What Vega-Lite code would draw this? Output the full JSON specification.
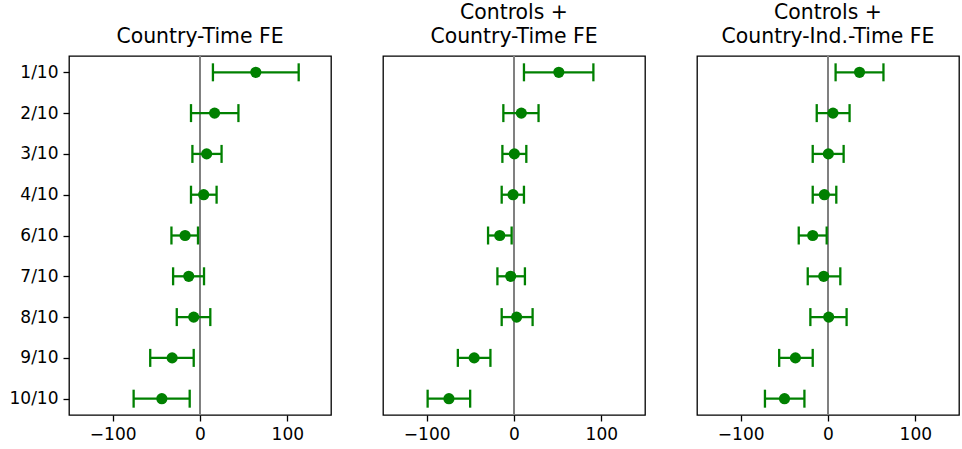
{
  "$schema": "https://vega.github.io/schema/vega-lite/v6.json",
  "padding": {"left": 8, "top": 1, "right": 0, "bottom": 0},
  "background": "white",
  "config": {
    "font": "DejaVu Sans",
    "view": {"stroke": "black", "strokeWidth": 1.3},
    "axis": {
      "labelFont": "DejaVu Sans", "labelFontSize": 17, "labelColor": "black",
      "tickColor": "black", "tickWidth": 1.3, "tickSize": 6, "labelPadding": 5,
      "domain": false, "grid": false, "title": null
    },
    "title": {"font": "DejaVu Sans", "fontSize": 20.4, "fontWeight": "normal", "color": "black", "offset": 8, "lineHeight": 24}
  },
  "datasets": {
    "coef": [
      {"panel": 1, "label": "1/10", "est": 63.9, "lo": 14.8, "hi": 113.0},
      {"panel": 1, "label": "2/10", "est": 16.7, "lo": -10.3, "hi": 44.0},
      {"panel": 1, "label": "3/10", "est": 7.6, "lo": -8.7, "hi": 24.7},
      {"panel": 1, "label": "4/10", "est": 4.2, "lo": -10.3, "hi": 19.0},
      {"panel": 1, "label": "6/10", "est": -17.1, "lo": -32.7, "hi": -2.3},
      {"panel": 1, "label": "7/10", "est": -12.9, "lo": -30.8, "hi": 4.6},
      {"panel": 1, "label": "8/10", "est": -7.2, "lo": -26.6, "hi": 11.8},
      {"panel": 1, "label": "9/10", "est": -31.9, "lo": -57.0, "hi": -7.2},
      {"panel": 1, "label": "10/10", "est": -43.7, "lo": -76.0, "hi": -11.8},
      {"panel": 2, "label": "1/10", "est": 51.3, "lo": 11.4, "hi": 90.9},
      {"panel": 2, "label": "2/10", "est": 8.4, "lo": -12.2, "hi": 28.1},
      {"panel": 2, "label": "3/10", "est": 0.4, "lo": -13.3, "hi": 14.1},
      {"panel": 2, "label": "4/10", "est": -1.1, "lo": -14.1, "hi": 11.4},
      {"panel": 2, "label": "6/10", "est": -16.3, "lo": -29.7, "hi": -2.7},
      {"panel": 2, "label": "7/10", "est": -3.8, "lo": -19.0, "hi": 12.5},
      {"panel": 2, "label": "8/10", "est": 3.0, "lo": -14.1, "hi": 21.3},
      {"panel": 2, "label": "9/10", "est": -45.6, "lo": -64.3, "hi": -27.0},
      {"panel": 2, "label": "10/10", "est": -74.5, "lo": -98.9, "hi": -50.2},
      {"panel": 3, "label": "1/10", "est": 36.1, "lo": 8.7, "hi": 63.5},
      {"panel": 3, "label": "2/10", "est": 5.7, "lo": -12.9, "hi": 24.7},
      {"panel": 3, "label": "3/10", "est": 0.4, "lo": -17.5, "hi": 17.9},
      {"panel": 3, "label": "4/10", "est": -4.2, "lo": -17.5, "hi": 9.5},
      {"panel": 3, "label": "6/10", "est": -17.5, "lo": -33.5, "hi": -1.5},
      {"panel": 3, "label": "7/10", "est": -4.9, "lo": -23.2, "hi": 14.1},
      {"panel": 3, "label": "8/10", "est": 0.8, "lo": -20.2, "hi": 21.3},
      {"panel": 3, "label": "9/10", "est": -37.3, "lo": -55.9, "hi": -17.5},
      {"panel": 3, "label": "10/10", "est": -49.8, "lo": -72.2, "hi": -27.0}
    ]
  },
  "spacing": 50,
  "hconcat": [
    {
      "title": "Country-Time FE",
      "width": 262, "height": 359,
      "data": {"name": "coef"},
      "transform": [{"filter": "datum.panel === 1"}],
      "encoding": {
        "y": {"field": "label", "type": "ordinal", "sort": ["1/10","2/10","3/10","4/10","6/10","7/10","8/10","9/10","10/10"], "scale": {"type": "point", "padding": 0.4}, "axis": {"title": null}}
      },
      "layer": [
        {"mark": {"type": "rule", "color": "#808080", "strokeWidth": 2}, "encoding": {"x": {"datum": 0, "type": "quantitative", "scale": {"domain": [-150, 150], "nice": false}, "axis": {"values": [-100, 0, 100]}}, "y": null}},
        {"mark": {"type": "rule", "color": "#008000", "strokeWidth": 2.3}, "encoding": {"x": {"field": "lo", "type": "quantitative"}, "x2": {"field": "hi"}}},
        {"mark": {"type": "tick", "color": "#008000", "thickness": 2.3, "size": 18, "opacity": 1}, "encoding": {"x": {"field": "lo", "type": "quantitative"}}},
        {"mark": {"type": "tick", "color": "#008000", "thickness": 2.3, "size": 18, "opacity": 1}, "encoding": {"x": {"field": "hi", "type": "quantitative"}}},
        {"mark": {"type": "point", "shape": "circle", "filled": true, "color": "#008000", "size": 125, "opacity": 1}, "encoding": {"x": {"field": "est", "type": "quantitative"}}}
      ]
    },
    {
      "title": ["Controls +", "Country-Time FE"],
      "width": 262, "height": 359,
      "data": {"name": "coef"},
      "transform": [{"filter": "datum.panel === 2"}],
      "encoding": {
        "y": {"field": "label", "type": "ordinal", "sort": ["1/10","2/10","3/10","4/10","6/10","7/10","8/10","9/10","10/10"], "scale": {"type": "point", "padding": 0.4}, "axis": null}
      },
      "layer": [
        {"mark": {"type": "rule", "color": "#808080", "strokeWidth": 2}, "encoding": {"x": {"datum": 0, "type": "quantitative", "scale": {"domain": [-150, 150], "nice": false}, "axis": {"values": [-100, 0, 100]}}, "y": null}},
        {"mark": {"type": "rule", "color": "#008000", "strokeWidth": 2.3}, "encoding": {"x": {"field": "lo", "type": "quantitative"}, "x2": {"field": "hi"}}},
        {"mark": {"type": "tick", "color": "#008000", "thickness": 2.3, "size": 18, "opacity": 1}, "encoding": {"x": {"field": "lo", "type": "quantitative"}}},
        {"mark": {"type": "tick", "color": "#008000", "thickness": 2.3, "size": 18, "opacity": 1}, "encoding": {"x": {"field": "hi", "type": "quantitative"}}},
        {"mark": {"type": "point", "shape": "circle", "filled": true, "color": "#008000", "size": 125, "opacity": 1}, "encoding": {"x": {"field": "est", "type": "quantitative"}}}
      ]
    },
    {
      "title": ["Controls +", "Country-Ind.-Time FE"],
      "width": 262, "height": 359,
      "data": {"name": "coef"},
      "transform": [{"filter": "datum.panel === 3"}],
      "encoding": {
        "y": {"field": "label", "type": "ordinal", "sort": ["1/10","2/10","3/10","4/10","6/10","7/10","8/10","9/10","10/10"], "scale": {"type": "point", "padding": 0.4}, "axis": null}
      },
      "layer": [
        {"mark": {"type": "rule", "color": "#808080", "strokeWidth": 2}, "encoding": {"x": {"datum": 0, "type": "quantitative", "scale": {"domain": [-150, 150], "nice": false}, "axis": {"values": [-100, 0, 100]}}, "y": null}},
        {"mark": {"type": "rule", "color": "#008000", "strokeWidth": 2.3}, "encoding": {"x": {"field": "lo", "type": "quantitative"}, "x2": {"field": "hi"}}},
        {"mark": {"type": "tick", "color": "#008000", "thickness": 2.3, "size": 18, "opacity": 1}, "encoding": {"x": {"field": "lo", "type": "quantitative"}}},
        {"mark": {"type": "tick", "color": "#008000", "thickness": 2.3, "size": 18, "opacity": 1}, "encoding": {"x": {"field": "hi", "type": "quantitative"}}},
        {"mark": {"type": "point", "shape": "circle", "filled": true, "color": "#008000", "size": 125, "opacity": 1}, "encoding": {"x": {"field": "est", "type": "quantitative"}}}
      ]
    }
  ]
}
